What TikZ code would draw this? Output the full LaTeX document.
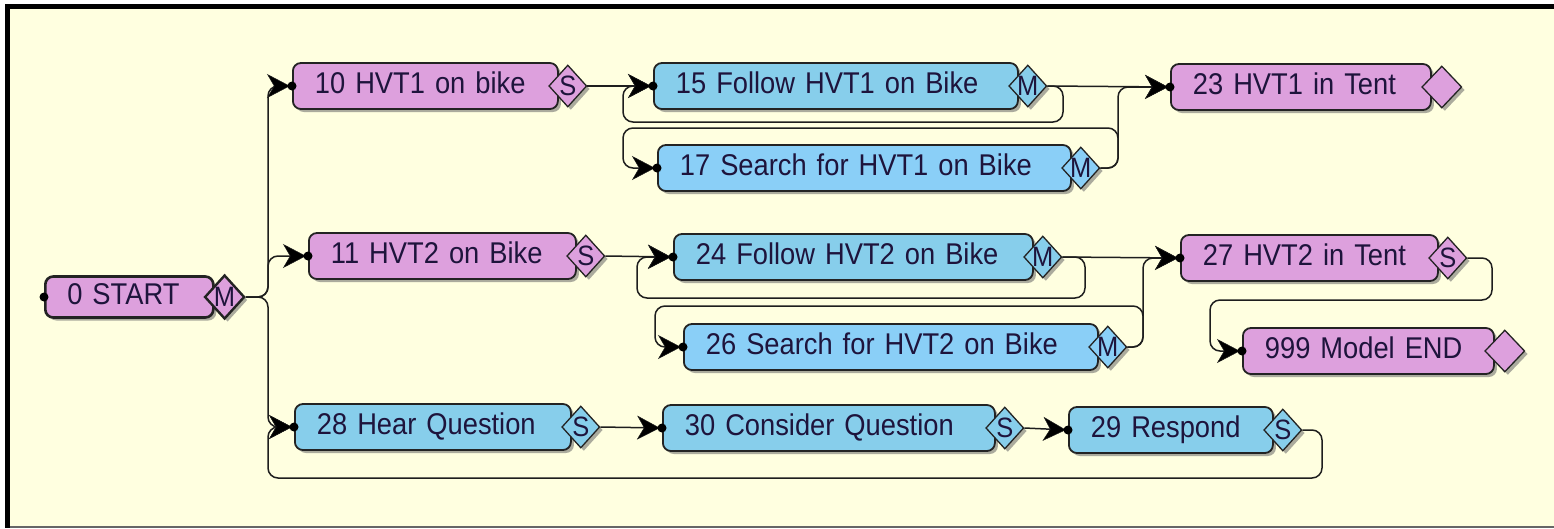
\documentclass[tikz,border=0pt]{standalone}
\usepackage{fontspec}
\setmainfont{Liberation Sans}[FakeStretch=0.91]
\usetikzlibrary{shapes.geometric,arrows.meta,shadows,calc}
\definecolor{bgc}{RGB}{255,255,224}
\definecolor{pinkc}{RGB}{221,160,221}
\definecolor{bluec}{RGB}{135,206,235}
\definecolor{bluel}{RGB}{138,207,247}
\definecolor{txt}{RGB}{30,20,60}
\definecolor{boxline}{RGB}{35,35,35}
\definecolor{linec}{RGB}{30,30,30}
\newcommand\mainsz{\fontsize{30pt}{32pt}\selectfont}
\newcommand\lettsz{\fontsize{28pt}{30pt}\selectfont}
\begin{document}
\begin{tikzpicture}[x=1pt,y=-1pt,
  shad/.style={drop shadow={shadow xshift=3pt,shadow yshift=-3pt,fill=black!60,opacity=0.55}},
  box/.style={draw=boxline,line width=1.8pt,rounded corners=8pt,minimum height=46pt,
    inner xsep=22pt,inner ysep=0pt,anchor=west,align=left,font=\mainsz,text=txt,
    text height=21pt,text depth=6pt,shad},
  pinkbox/.style={box,fill=pinkc},
  bluebox/.style={box,fill=bluec},
  blueboxl/.style={box,fill=bluel},
  diam/.style={draw=boxline,line width=1.3pt,diamond,inner sep=0pt,minimum width=38pt,minimum height=42pt,shad},
  lett/.style={font=\lettsz,text=txt,inner sep=0pt},
  conn/.style={draw=linec,line width=1.5pt,rounded corners=10pt},
  arr/.style={conn,-{Stealth[length=23pt,width=24pt,inset=7pt,fill=black,line width=0.5pt]},shorten >=2pt}
]
% frame
\fill[white] (0,0) rectangle (1554,528);
\fill[bgc] (9.5,9) rectangle (1554,526);
\fill[black] (5,4) rectangle (1554,9);
\fill[black] (5,4) rectangle (9.5,528);
\fill[black!60] (9.5,526) rectangle (1554,528);
\useasboundingbox (0,0) rectangle (1554,528);

% START
\node[pinkbox,line width=2.6pt,minimum height=41pt,text width=124pt] (n0) at (44,297) {0 START};
\node[diam,fill=pinkc,line width=2.4pt,minimum width=40pt,minimum height=44pt,label={[lett]center:M}] (d0) at ($(n0.east)+(10,0)$) {};

% row 1
\node[pinkbox,text width=221pt] (n10) at (292,86) {10 HVT1 on bike};
\node[diam,fill=pinkc,label={[lett]center:S}] (d10) at ($(n10.east)+(9,0)$) {};
\node[bluebox,text width=320pt] (n15) at (653,86) {15 Follow HVT1 on Bike};
\node[diam,fill=bluec,label={[lett]center:M}] (d15) at ($(n15.east)+(9,0)$) {};
\node[blueboxl,text width=369pt] (n17) at (657,168) {17 Search for HVT1 on Bike};
\node[diam,fill=bluel,label={[lett]center:M}] (d17) at ($(n17.east)+(9,0)$) {};
\node[pinkbox,text width=216pt] (n23) at (1170,87) {23 HVT1 in Tent};
\node[diam,fill=pinkc,minimum width=40pt] (d23) at ($(n23.east)+(10,0)$) {};

% row 2
\node[pinkbox,text width=223pt] (n11) at (308,256) {11 HVT2 on Bike};
\node[diam,fill=pinkc,label={[lett]center:S}] (d11) at ($(n11.east)+(9,0)$) {};
\node[bluebox,text width=315pt] (n24) at (673,257) {24 Follow HVT2 on Bike};
\node[diam,fill=bluec,label={[lett]center:M}] (d24) at ($(n24.east)+(9,0)$) {};
\node[blueboxl,text width=370pt] (n26) at (683,347) {26 Search for HVT2 on Bike};
\node[diam,fill=bluel,label={[lett]center:M}] (d26) at ($(n26.east)+(9,0)$) {};
\node[pinkbox,text width=213pt] (n27) at (1180,258) {27 HVT2 in Tent};
\node[diam,fill=pinkc,label={[lett]center:S}] (d27) at ($(n27.east)+(9,0)$) {};
\node[pinkbox,text width=207pt] (n999) at (1242,351) {999 Model END};
\node[diam,fill=pinkc,minimum width=40pt] (d999) at ($(n999.east)+(10,0)$) {};

% row 3
\node[bluebox,text width=232pt] (n28) at (294,427) {28 Hear Question};
\node[diam,fill=bluec,label={[lett]center:S}] (d28) at ($(n28.east)+(9,0)$) {};
\node[bluebox,text width=288pt] (n30) at (662,428) {30 Consider Question};
\node[diam,fill=bluec,label={[lett]center:S}] (d30) at ($(n30.east)+(9,0)$) {};
\node[bluebox,text width=160pt] (n29) at (1068,430) {29 Respond};
\node[diam,fill=bluec,label={[lett]center:S}] (d29) at ($(n29.east)+(9,0)$) {};

% connectors
\draw[arr] (d0.east) -| (268,86) -- (n10.west);
\draw[arr] (d0.east) -| (268,256) -- (n11.west);
\draw[arr] (d0.east) -| (268,427) -- (n28.west);

\draw[arr] (d10.east) -- (n15.west);
\draw[arr] (d15.east) -| (1063,122) -| (623,86) -- (n15.west);
\draw[arr] (d17.east) -| (1118,128) -| (623,168) -- (n17.west);
\draw[arr] (d15.east) -- (n23.west);
\draw[arr] (d17.east) -| (1118,87) -- (n23.west);

\draw[arr] (d11.east) -- (n24.west);
\draw[arr] (d24.east) -| (1085,298) -| (637,257) -- (n24.west);
\draw[arr] (d26.east) -| (1143,306) -| (655,347) -- (n26.west);
\draw[arr] (d24.east) -- (n27.west);
\draw[arr] (d26.east) -| (1143,258) -- (n27.west);
\draw[arr] (d27.east) -| (1492,300) -| (1210,351) -- (n999.west);

\draw[arr] (d28.east) -- (n30.west);
\draw[arr] (d30.east) -- (n29.west);
\draw[arr] (d29.east) -| (1322,478) -| (268,427) -- (n28.west);

% input ports
\foreach \n in {n0,n10,n15,n17,n23,n11,n24,n26,n27,n999,n28,n30,n29}
  \fill[black] (\n.west) circle (4.5pt);
\end{tikzpicture}
\end{document}
